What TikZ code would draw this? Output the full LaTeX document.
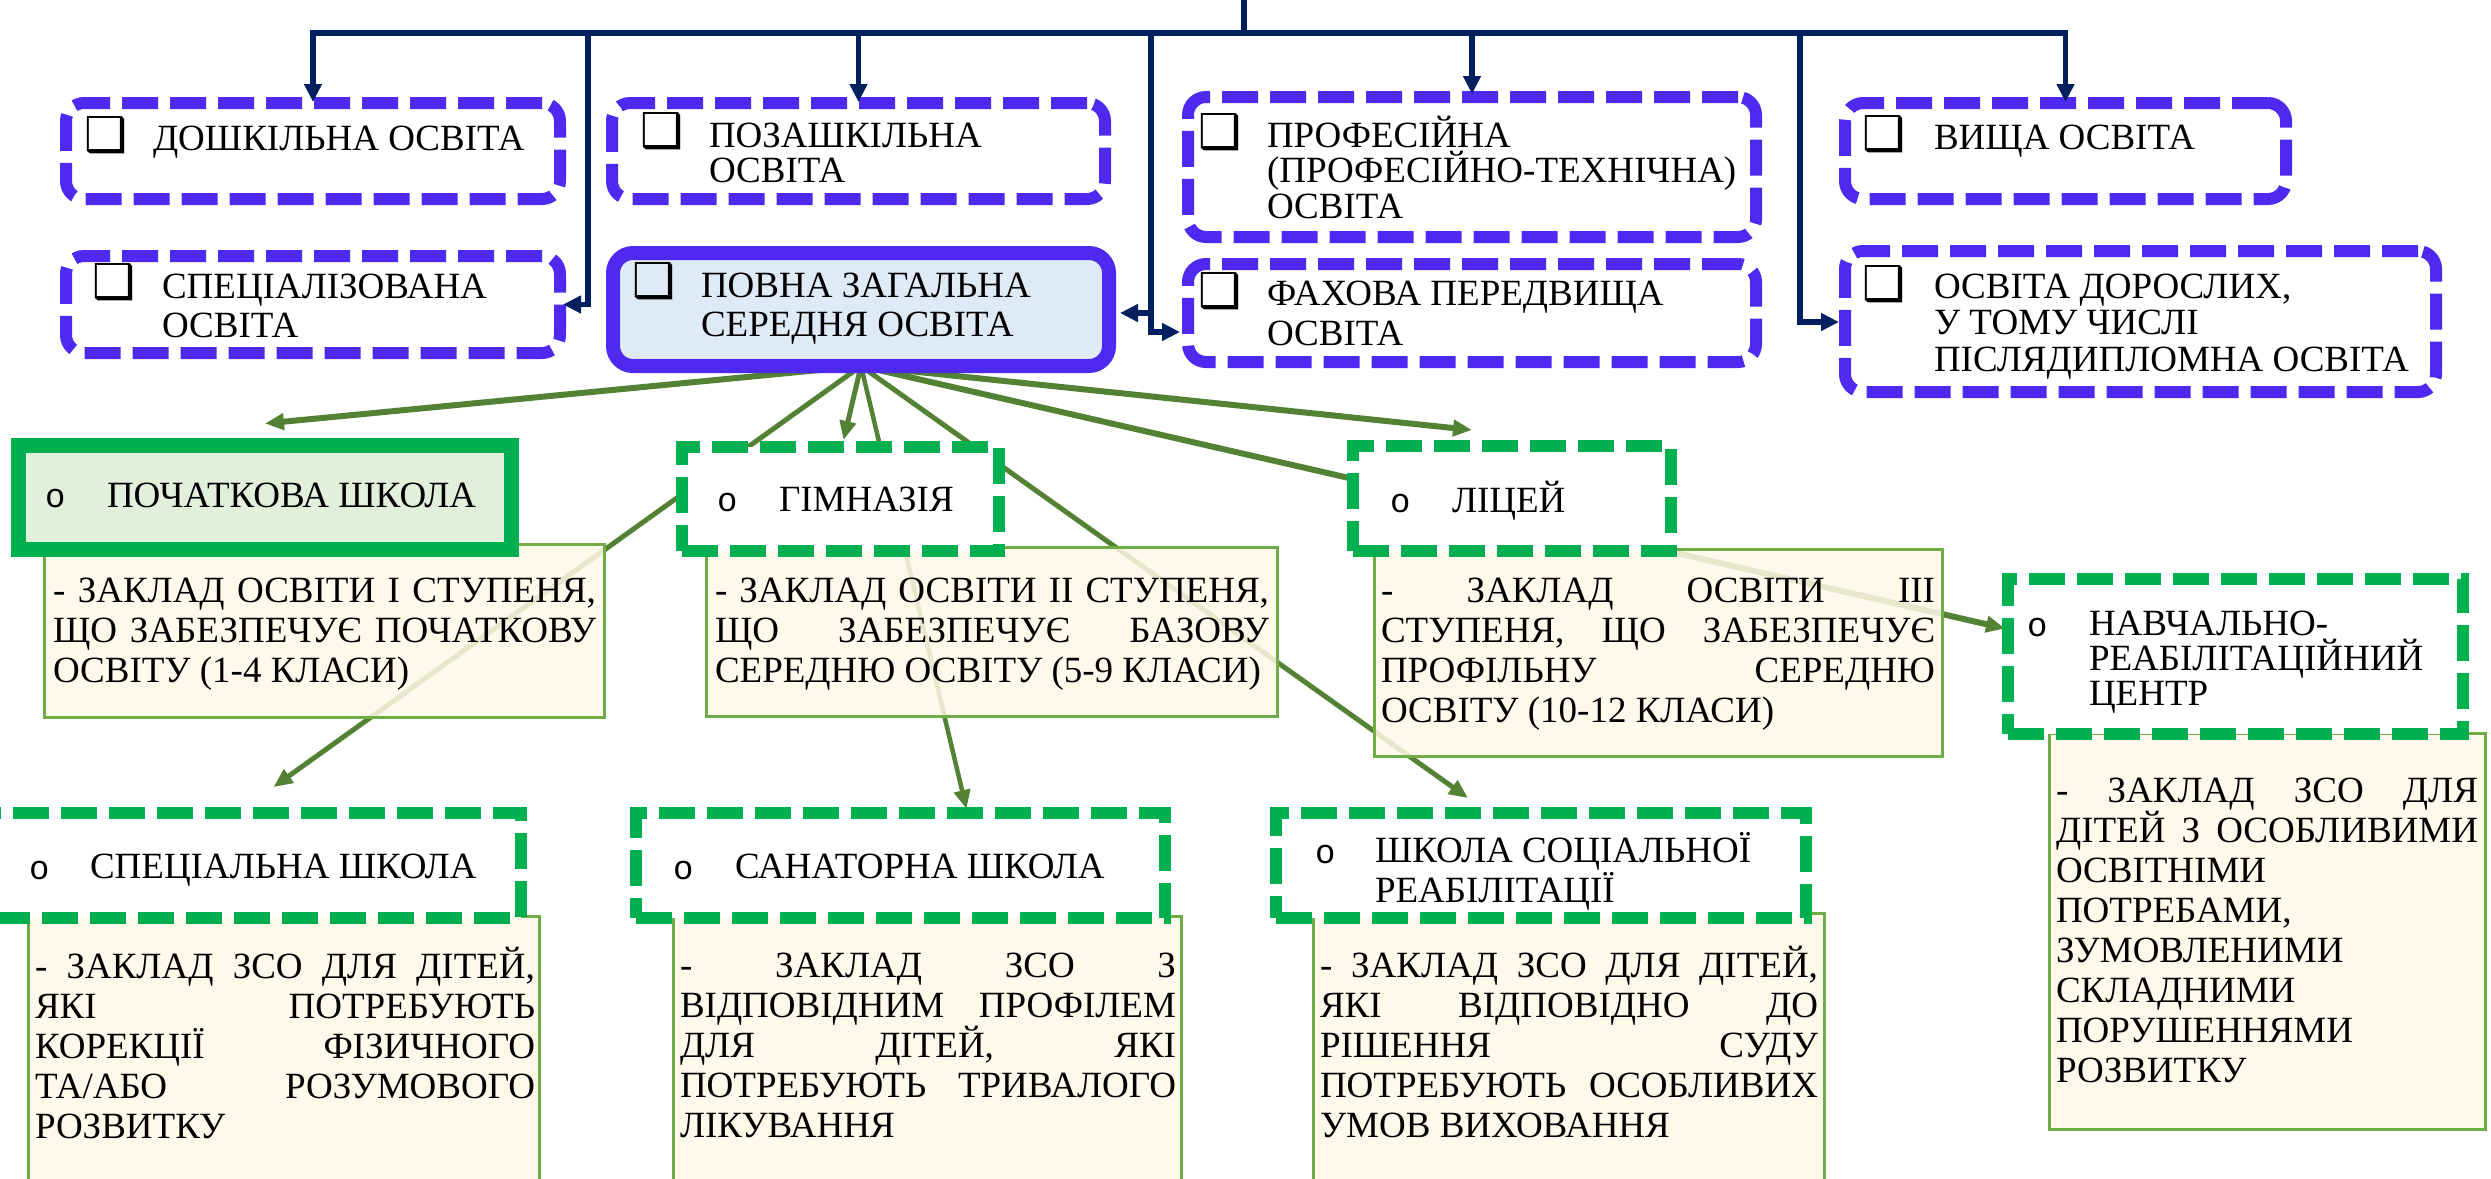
\documentclass[tikz,border=0pt]{standalone}
\usepackage{fontspec}
\setmainfont{Liberation Serif}
\newfontfamily\cbfont{DejaVu Sans}
\newfontfamily\bulfont{Liberation Mono}
\usetikzlibrary{arrows.meta,calc}
\pgfdeclarelayer{bg}
\pgfsetlayers{bg,main}
\definecolor{bluebd}{RGB}{78,42,240}
\definecolor{navy}{RGB}{0,32,96}
\definecolor{greenbd}{RGB}{0,176,80}
\definecolor{arrgreen}{RGB}{84,130,53}
\definecolor{yfill}{RGB}{254,248,231}
\definecolor{ybd}{RGB}{112,173,71}
\definecolor{pochfill}{RGB}{226,239,218}
\definecolor{povnafill}{RGB}{222,235,247}
\newcommand\natsp{\spaceskip=0pt\xspaceskip=0pt\relax}
\newcommand\jl[1]{\leavevmode\hbox to \hsize{\natsp #1}\\}
\newcommand\cb{{\cbfont\fontsize{48}{48}\selectfont ❑}}
\newcommand\bul{{\bulfont\fontsize{34}{34}\selectfont o}}
\newcommand\mkbox[6]{\node[#1, minimum width={#5-#3}, minimum height={#6-#4}] (#2) at ({(#3+#5)/2},{(#4+#6)/2}) {};}
\tikzset{
 bluedash/.style={draw=bluebd, line width=12pt, dash pattern=on 36pt off 12pt, rounded corners=18pt, fill=white},
 bluesolid/.style={draw=bluebd, line width=14pt, rounded corners=20pt, fill=povnafill},
 greendash/.style={draw=greenbd, line width=12pt, dash pattern=on 36pt off 12pt, fill=white},
 greensolid/.style={draw=greenbd, line width=15pt, fill=pochfill},
 ybox/.style={draw=ybd, line width=3pt, fill=yfill, fill opacity=0.86},
 navyline/.style={draw=navy, line width=5.5pt},
 navyarr/.style={navyline, -{Triangle[length=18pt,width=17pt]}},
 garr/.style={draw=arrgreen, line width=#1, -{Triangle[length=19pt,width=16pt]}},
 garr/.default=5pt,
 toptext/.style={anchor=base west, text width=640pt, align=left, font=\fontsize{37}{#1}\selectfont, execute at begin node=\natsp},
 toptext/.default=36,
 sym/.style={anchor=base west},
 desc/.style={anchor=base west, text width=#1, align=left, font=\fontsize{37}{40}\selectfont, execute at begin node=\natsp},
}
\begin{document}
\lineskiplimit=-1000pt
\lineskip=0pt
\begin{tikzpicture}[x=1pt,y=-1pt,inner sep=0pt,outer sep=0pt]
\useasboundingbox (0,0) rectangle (2491,1178);
% description boxes (under the others)
\mkbox{ybox}{d1}{44.5}{544.5}{604.5}{717.5}
\mkbox{ybox}{d2}{706.5}{547.5}{1277.5}{716.5}
\mkbox{ybox}{d3}{1374.5}{549.5}{1942.5}{756.5}
\mkbox{ybox}{d4}{2049.5}{733.5}{2485.5}{1129.5}
\mkbox{ybox}{d5}{28.5}{916.5}{539.5}{1200}
\mkbox{ybox}{d6}{673.5}{916.5}{1181.5}{1200}
\mkbox{ybox}{d7}{1313.5}{913.5}{1824.5}{1200}
% school boxes
\mkbox{greensolid}{poch}{18.5}{445.5}{511.5}{549.5}
\mkbox{greendash}{gym}{682}{447}{999}{551}
\mkbox{greendash}{lic}{1353}{446}{1671}{551}
\mkbox{greendash}{navch}{2008}{579}{2463}{734}
\mkbox{greendash}{specsch}{-6}{813}{521}{918}
\mkbox{greendash}{san}{636}{813}{1165}{918}
\mkbox{greendash}{soc}{1276}{813}{1806}{918}
% education boxes
\mkbox{bluedash}{dosh}{66}{103}{560}{199}
\mkbox{bluedash}{spec}{66}{256}{560}{353}
\mkbox{bluedash}{poza}{612}{103}{1105}{199}
\mkbox{bluesolid}{povna}{613}{253}{1109}{366}
\mkbox{bluedash}{prof}{1188}{97}{1756}{237}
\mkbox{bluedash}{fah}{1188}{264}{1756}{362}
\mkbox{bluedash}{vysh}{1845}{103}{2286}{199}
\mkbox{bluedash}{dor}{1845}{251}{2436}{392}
% green connectors
\begin{pgfonlayer}{bg}
\draw[garr=6pt] (povna.south) -- ($(poch.north)+(0,-22)$);
\draw[garr] (povna.south) -- ($(specsch.north)+(16,-26)$);
\draw[garr] (povna.south) -- ($(gym.north)+(3,-7)$);
\draw[garr=4.5pt] (povna.south) -- ($(san.north)+(66,-4)$);
\draw[garr] (povna.south) -- ($(soc.north)+(-73,-15)$);
\draw[garr=6pt] (povna.south) -- ($(lic.north)+(-40,-16)$);
\draw[garr=6pt] (povna.south) -- ($(navch.west)+(-3,-28)$);
\end{pgfonlayer}
% navy connectors
\coordinate (src) at (1244,-3);
\coordinate (bj) at (1244,33);
\coordinate (j1) at (588,33);
\coordinate (j2) at (1151,33);
\coordinate (j3) at (1800,33);
\draw[navyline] (src) -- (bj);
\draw[navyline] ([xshift=-2.75pt]dosh.north |- bj) -- ([xshift=2.75pt]vysh.north |- bj);
\draw[navyarr] (dosh.north |- bj) -- ($(dosh.north)+(0,-1)$);
\draw[navyarr] (poza.north |- bj) -- ($(poza.north)+(0,-1)$);
\draw[navyarr] (prof.north |- bj) -- ($(prof.north)+(0,-3)$);
\draw[navyarr] (vysh.north |- bj) -- ($(vysh.north)+(0,-1)$);
\draw[navyarr] (j1) |- ($(spec.east)+(3,0)$);
\draw[navyarr] (j2) |- ($(povna.east)+(11,3.5)$);
\draw[navyarr] (j2) |- ($(fah.west)+(-8,19)$);
\draw[navyarr] (j3) |- ($(dor.west)+(-6,0.5)$);
% top texts
\node[sym] (s-dosh) at (84,151) {\cb};
\node[toptext] (t-dosh) at (153,150) {ДОШКІЛЬНА ОСВІТА};
\node[sym] (s-poza) at (640,147) {\cb};
\node[toptext=35] (t-poza) at (709,147) {ПОЗАШКІЛЬНА\\ОСВІТА};
\node[sym] (s-spec) at (92,298) {\cb};
\node[toptext=39] (t-spec) at (162,298) {СПЕЦІАЛІЗОВАНА\\ОСВІТА};
\node[sym] (s-povna) at (632,297) {\cb};
\node[toptext=39] (t-povna) at (701,297) {ПОВНА ЗАГАЛЬНА\\СЕРЕДНЯ ОСВІТА};
\node[sym] (s-prof) at (1198,148) {\cb};
\node[toptext=35.5] (t-prof) at (1267,147) {ПРОФЕСІЙНА\\(ПРОФЕСІЙНО-ТЕХНІЧНА)\\ОСВІТА};
\node[sym] (s-fah) at (1198,307) {\cb};
\node[toptext=40] (t-fah) at (1267,305) {ФАХОВА ПЕРЕДВИЩА\\ОСВІТА};
\node[sym] (s-vysh) at (1862,150) {\cb};
\node[toptext] (t-vysh) at (1934,149) {ВИЩА ОСВІТА};
\node[sym] (s-dor) at (1862,300) {\cb};
\node[toptext=36.5] (t-dor) at (1934,298) {ОСВІТА ДОРОСЛИХ,\\У ТОМУ ЧИСЛІ\\ПІСЛЯДИПЛОМНА ОСВІТА};
% school names
\node[sym] (b-poch) at (45,507) {\bul};
\node[toptext] (t-poch) at (107,507) {ПОЧАТКОВА ШКОЛА};
\node[sym] (b-gym) at (717,511) {\bul};
\node[toptext] (t-gym) at (779,511) {ГІМНАЗІЯ};
\node[sym] (b-lic) at (1390,512) {\bul};
\node[toptext] (t-lic) at (1452,512) {ЛІЦЕЙ};
\node[sym] (b-navch) at (2027,636) {\bul};
\node[toptext=35] (t-navch) at (2089,635) {НАВЧАЛЬНО-\\РЕАБІЛІТАЦІЙНИЙ\\ЦЕНТР};
\node[sym] (b-specsch) at (29,879) {\bul};
\node[toptext] (t-specsch) at (90,878) {СПЕЦІАЛЬНА ШКОЛА};
\node[sym] (b-san) at (673,879) {\bul};
\node[toptext] (t-san) at (735,878) {САНАТОРНА ШКОЛА};
\node[sym] (b-soc) at (1315,863) {\bul};
\node[toptext=40] (t-soc) at (1375,862) {ШКОЛА СОЦІАЛЬНОЇ\\РЕАБІЛІТАЦІЇ};
% descriptions
\node[desc=543pt] (t-d1) at (53,602) {\jl{- ЗАКЛАД ОСВІТИ І СТУПЕНЯ,}\jl{ЩО ЗАБЕЗПЕЧУЄ ПОЧАТКОВУ}ОСВІТУ (1-4 КЛАСИ)};
\node[desc=554pt] (t-d2) at (715,602) {\jl{- ЗАКЛАД ОСВІТИ ІІ СТУПЕНЯ,}\jl{ЩО ЗАБЕЗПЕЧУЄ БАЗОВУ}СЕРЕДНЮ ОСВІТУ (5-9 КЛАСИ)};
\node[desc=554pt] (t-d3) at (1381,602) {\jl{- ЗАКЛАД ОСВІТИ ІІІ}\jl{СТУПЕНЯ, ЩО ЗАБЕЗПЕЧУЄ}\jl{ПРОФІЛЬНУ СЕРЕДНЮ}ОСВІТУ (10-12 КЛАСИ)};
\node[desc=422pt] (t-d4) at (2056,802) {\jl{- ЗАКЛАД ЗСО ДЛЯ}\jl{ДІТЕЙ З ОСОБЛИВИМИ}ОСВІТНІМИ\\ПОТРЕБАМИ,\\ЗУМОВЛЕНИМИ\\СКЛАДНИМИ\\ПОРУШЕННЯМИ\\РОЗВИТКУ};
\node[desc=500pt] (t-d5) at (35,978) {\jl{- ЗАКЛАД ЗСО ДЛЯ ДІТЕЙ,}\jl{ЯКІ ПОТРЕБУЮТЬ}\jl{КОРЕКЦІЇ ФІЗИЧНОГО}\jl{ТА/АБО РОЗУМОВОГО}РОЗВИТКУ};
\node[desc=496pt] (t-d6) at (680,977) {\jl{- ЗАКЛАД ЗСО З}\jl{ВІДПОВІДНИМ ПРОФІЛЕМ}\jl{ДЛЯ ДІТЕЙ, ЯКІ}\jl{ПОТРЕБУЮТЬ ТРИВАЛОГО}ЛІКУВАННЯ};
\node[desc=498pt] (t-d7) at (1320,977) {\jl{- ЗАКЛАД ЗСО ДЛЯ ДІТЕЙ,}\jl{ЯКІ ВІДПОВІДНО ДО}\jl{РІШЕННЯ СУДУ}\jl{ПОТРЕБУЮТЬ ОСОБЛИВИХ}УМОВ ВИХОВАННЯ};
\end{tikzpicture}
\end{document}
